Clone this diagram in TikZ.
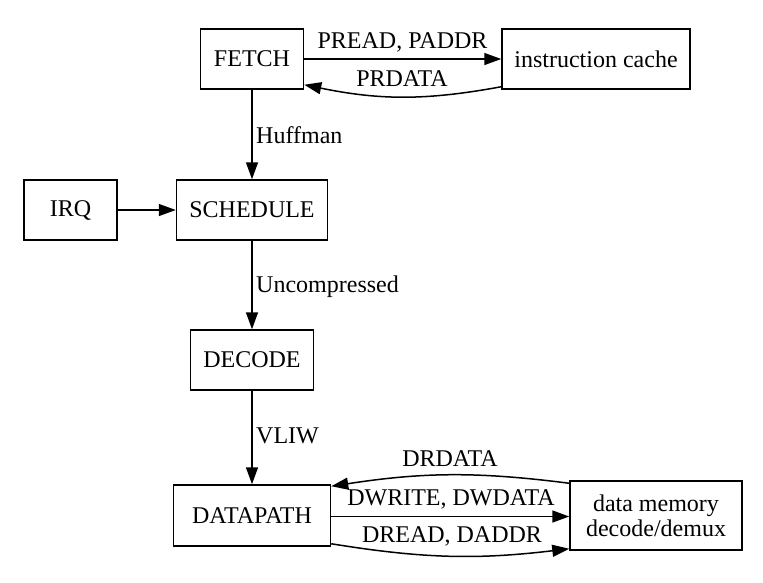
\documentclass[tikz,border=0pt]{standalone}
\usepackage{fontspec}
\setmainfont{Liberation Serif}
\usetikzlibrary{arrows.meta}
\begin{document}
\begin{tikzpicture}[x=1pt,y=-1pt,
  box/.style={draw, line width=1.5pt, inner sep=0pt, align=center, font=\fontsize{24}{27}\selectfont},
  lbl/.style={inner sep=0pt, font=\fontsize{24}{27}\selectfont},
  arr/.style={line width=1.5pt, -{Triangle[length=17pt,width=12pt]}}]
\useasboundingbox (0,0) rectangle (763,582);
\node[box, minimum width=103pt, minimum height=60pt] (fetch) at (252,59) {FETCH};
\node[box, minimum width=188pt, minimum height=60pt] (icache) at (596,59) {instruction cache};
\node[box, minimum width=93pt, minimum height=60pt] (irq) at (70.5,210) {IRQ};
\node[box, minimum width=151pt, minimum height=60pt] (sched) at (252,210) {SCHEDULE};
\node[box, minimum width=123pt, minimum height=60pt] (decode) at (252,360) {DECODE};
\node[box, minimum width=157pt, minimum height=61pt] (dp) at (252,515.5) {DATAPATH};
\node[box, minimum width=172pt, minimum height=69pt] (dm) at (656,515.5) {data memory\\[-2pt]decode/demux};

\draw[arr] (fetch) -- (icache);
\node[lbl, anchor=base] (l1) at (402.5,48.5) {PREAD, PADDR};
\draw[arr] ([yshift=3pt]icache.south west) to[bend left=11] ([yshift=5pt]fetch.south east);
\node[lbl, anchor=base] (l2) at (402,86.5) {PRDATA};

\draw[arr] (fetch) -- (sched);
\node[lbl, anchor=base west] (l3) at (256,143) {Huffman};
\draw[arr] (irq) -- (sched);
\draw[arr] (sched) -- (decode);
\node[lbl, anchor=base west] (l4) at (256,292.5) {Uncompressed};
\draw[arr] (decode) -- (dp);
\node[lbl, anchor=base west] (l5) at (256,443.5) {VLIW};

\draw[arr] ([yshift=-3pt]dm.north west) to[bend right=8] ([yshift=-2pt]dp.north east);
\node[lbl, anchor=base] (l6) at (450,466.5) {DRDATA};
\draw[arr] ([yshift=-1pt]dp.east) -- ([yshift=-1pt]dm.west);
\node[lbl, anchor=base] (l7) at (451,505.5) {DWRITE, DWDATA};
\draw[arr] ([yshift=3pt]dp.south east) to[bend right=8] ([yshift=2pt]dm.south west);
\node[lbl, anchor=base] (l8) at (452,542.5) {DREAD, DADDR};
\end{tikzpicture}
\end{document}
